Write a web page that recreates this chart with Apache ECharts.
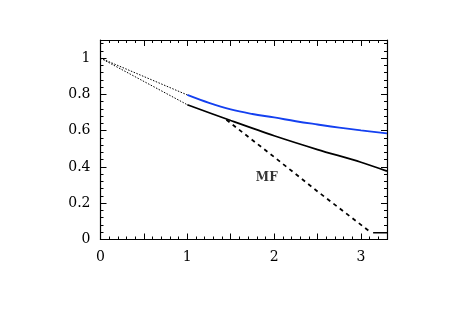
<!DOCTYPE html>
<html>
<head>
<meta charset="utf-8">
<script src="https://cdn.jsdelivr.net/npm/echarts@6/dist/echarts.min.js"></script>
<style>
  html, body { margin: 0; padding: 0; background: #fff; }
  #chart { width: 463px; height: 327px; }
</style>
</head>
<body>
<div id="chart"></div>
<script>
// values
const blueLeadX = [0, 1]
const blueLeadY = [1, 0.797]
const blueX = [1, 1.25, 1.5, 1.75, 2, 2.25, 2.5, 2.75, 3, 3.3]
const blueY = [0.797, 0.753, 0.717, 0.692, 0.673, 0.652, 0.634, 0.617, 0.602, 0.585]

const blackLeadX = [0, 1]
const blackLeadY = [1, 0.743]
const blackX = [1, 1.5, 2, 2.5, 3, 3.3]
const blackY = [0.743, 0.656, 0.572, 0.496, 0.426, 0.377]

const mfX = [1.45, 2, 2.5, 3.12]
const mfY = [0.66, 0.455, 0.265, 0.037]
const mfTailX = [3.14, 3.3]
const mfTailY = [0.037, 0.037]

const mfLabel = { x: 1.915, y: 0.338, text: 'MF' }

const xTicks = [0, 1, 2, 3]
const fontFamily = '"DejaVu Serif", "Liberation Serif", serif'

const zip = (xs, ys) => xs.map((x, i) => [x, ys[i]])

const axisCommon = {
  axisLine: { onZero: false, lineStyle: { color: '#000', width: 1.2 } },
  axisTick: { inside: true, length: 6, lineStyle: { color: '#000', width: 1 } },
  minorTick: { show: true, length: 3, splitNumber: 5, lineStyle: { color: '#000', width: 1 } },
  splitLine: { show: false },
}

const chart = echarts.init(document.getElementById('chart'), null, { renderer: 'canvas' })

const lineSeries = (data, color, width, type, smooth) => ({
  type: 'line',
  data: data,
  symbol: 'none',
  smooth: smooth || false,
  silent: true,
  animation: false,
  lineStyle: { color: color, width: width, type: type },
})

chart.setOption({
  backgroundColor: '#fff',
  animation: false,
  grid: { left: 100.5, right: 76, top: 40, bottom: 87.5 },
  xAxis: [
    Object.assign({}, axisCommon, {
      type: 'value', min: 0, max: 3.3, interval: 0.5,
      axisLabel: {
        color: '#000', fontFamily: fontFamily, fontSize: 14, margin: 11,
        showMaxLabel: false,
        formatter: (v) => xTicks.indexOf(v) >= 0 ? String(v) : '',
      },
    }),
    Object.assign({}, axisCommon, {
      type: 'value', min: 0, max: 3.3, interval: 0.5, position: 'top',
      axisLabel: { show: false },
    }),
  ],
  yAxis: [
    Object.assign({}, axisCommon, {
      type: 'value', min: 0, max: 1.1, interval: 0.2,
      axisLabel: {
        color: '#000', fontFamily: fontFamily, fontSize: 14, margin: 10,
        showMaxLabel: false,
        formatter: (v) => String(Math.round(v * 10) / 10),
      },
    }),
    Object.assign({}, axisCommon, {
      type: 'value', min: 0, max: 1.1, interval: 0.2, position: 'right',
      axisLabel: { show: false },
    }),
  ],
  series: [
    lineSeries(zip(blueLeadX, blueLeadY), '#000', 1, [1.5, 1.5]),
    lineSeries(zip(blackLeadX, blackLeadY), '#000', 1, [1.5, 1.5]),
    lineSeries(zip(blueX, blueY), '#1440f0', 1.8, 'solid', 0.4),
    lineSeries(zip(blackX, blackY), '#000', 1.8, 'solid', 0.3),
    lineSeries(zip(mfX, mfY), '#000', 1.8, [4, 4]),
    lineSeries(zip(mfTailX, mfTailY), '#000', 1.5, 'solid'),
    {
      type: 'scatter',
      data: [[mfLabel.x, mfLabel.y]],
      symbolSize: 1,
      itemStyle: { color: 'rgba(0,0,0,0)' },
      silent: true,
      label: {
        show: true, position: 'inside', formatter: mfLabel.text,
        color: '#000', fontFamily: fontFamily, fontWeight: 'bold', fontSize: 12,
      },
    },
  ],
})
</script>
</body>
</html>
